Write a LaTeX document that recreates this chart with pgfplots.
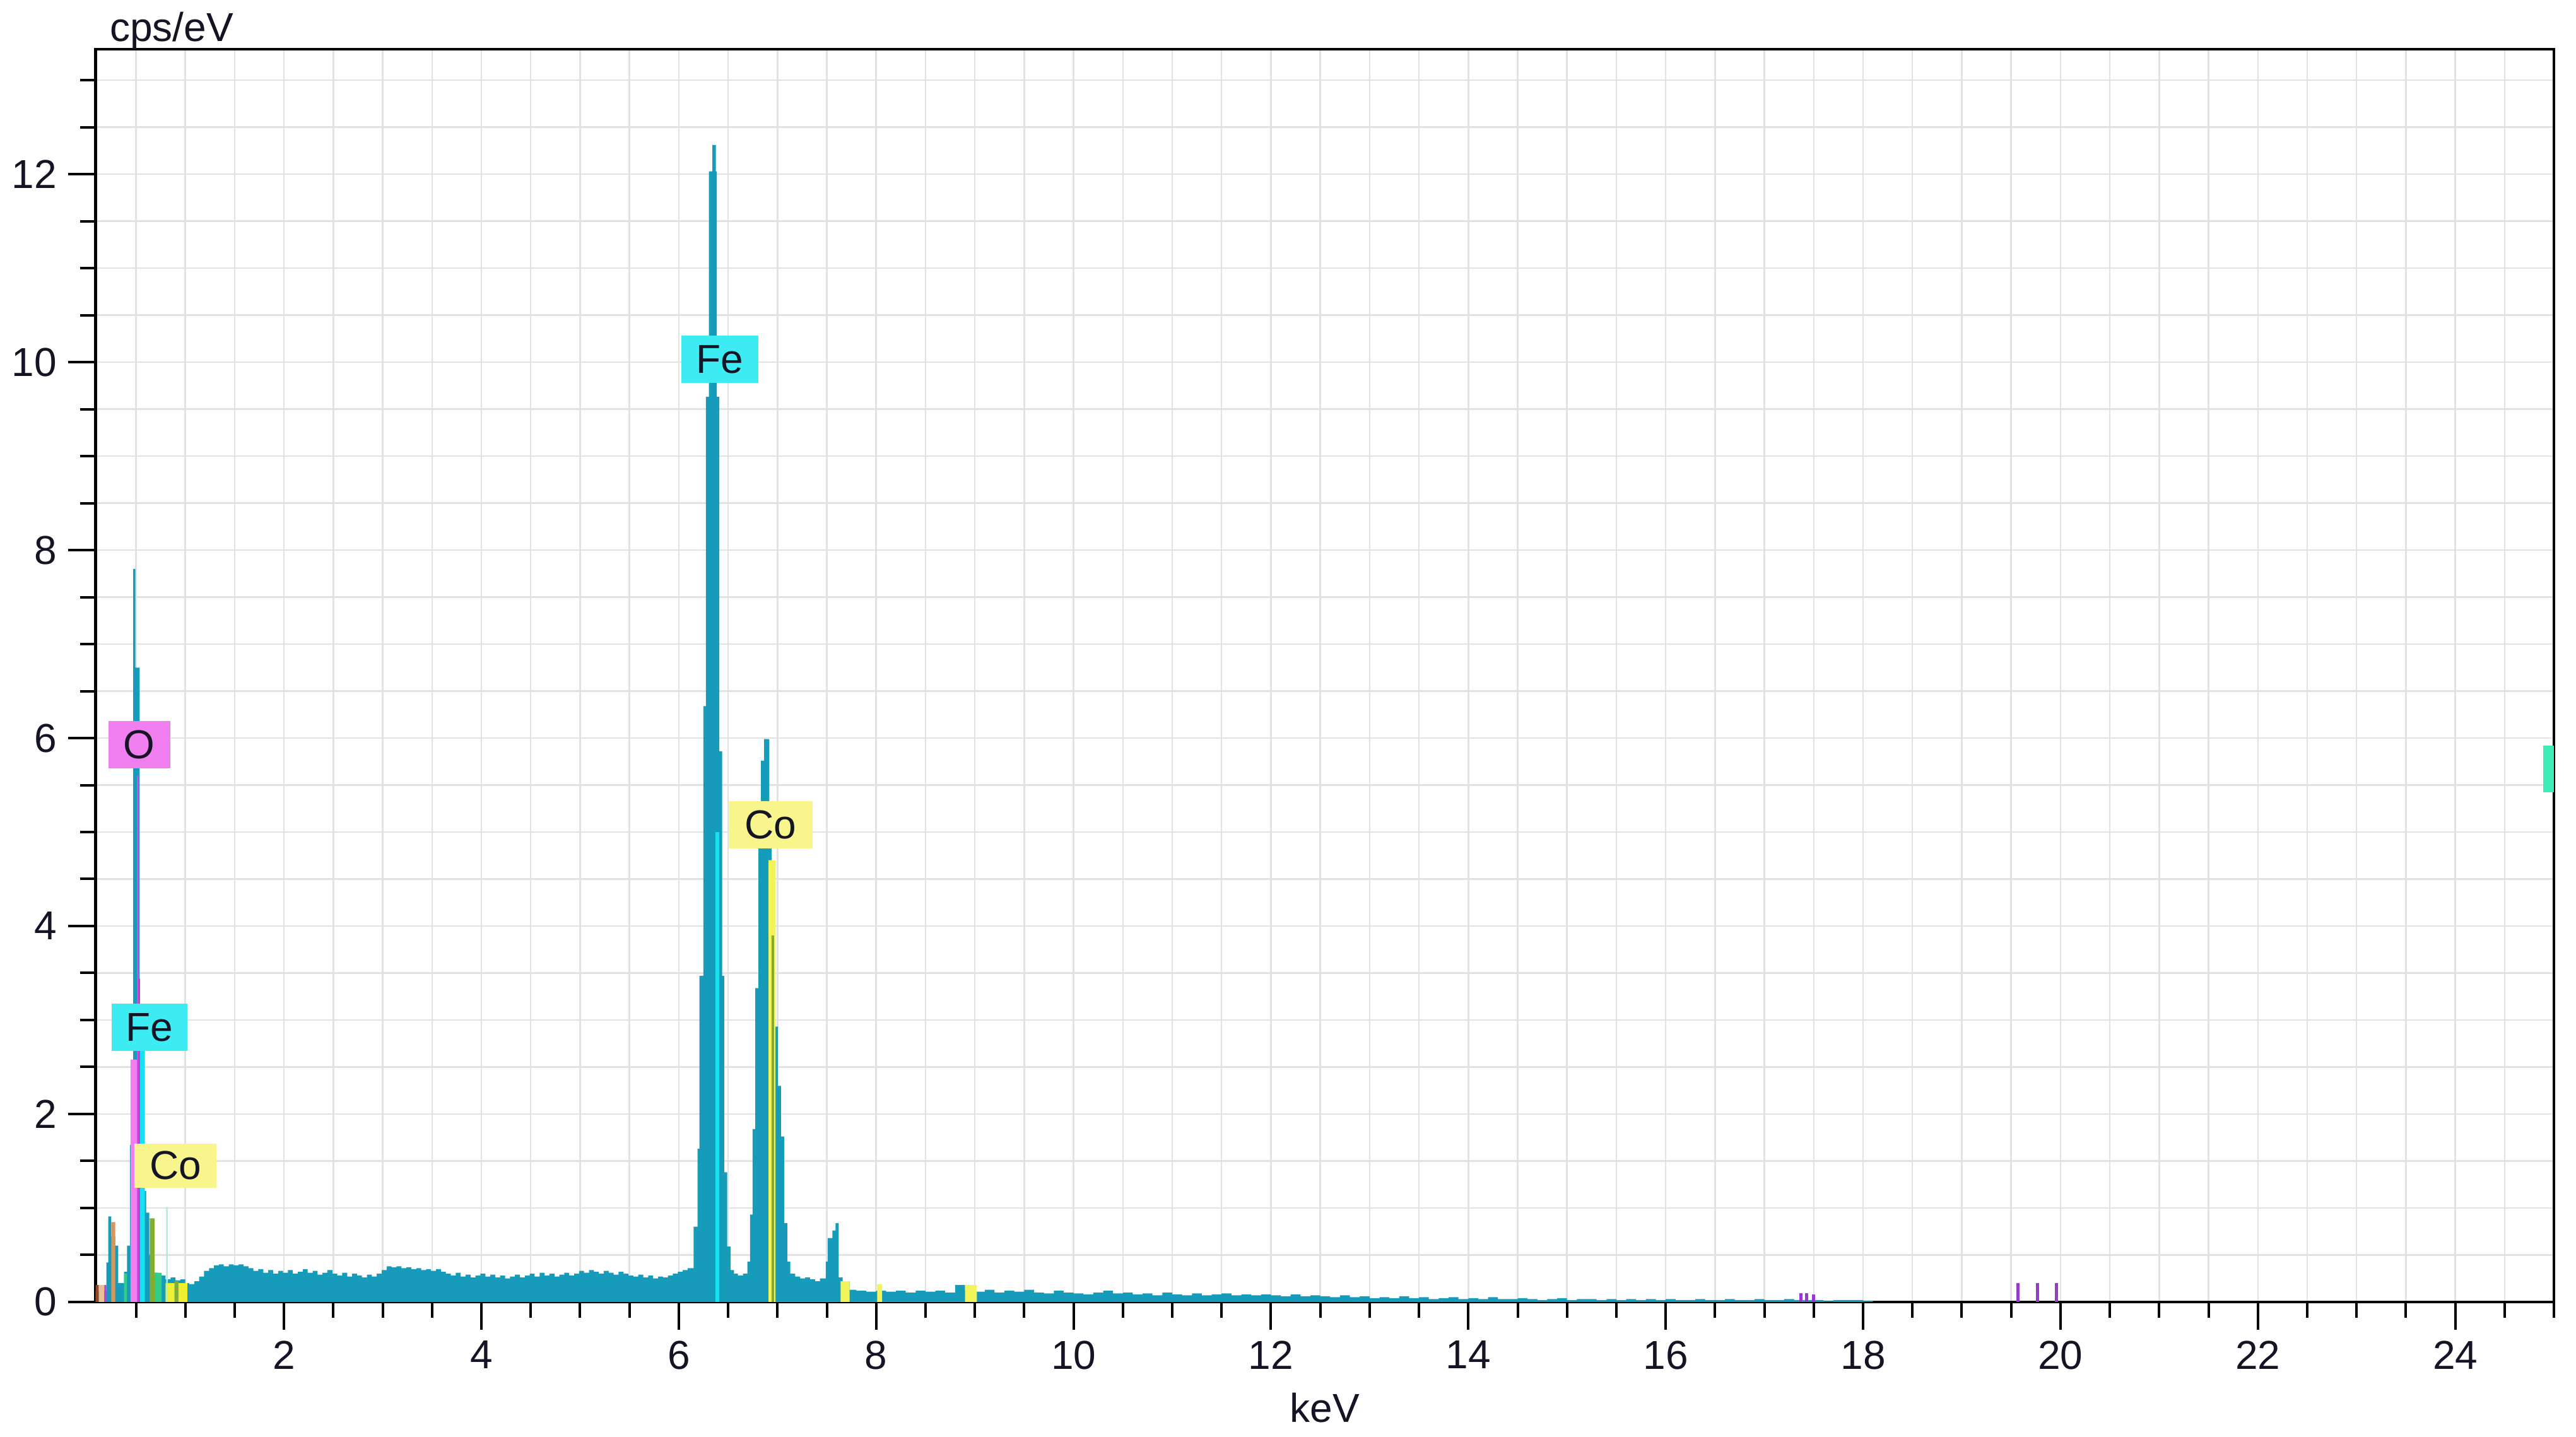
\documentclass[border=0pt]{standalone}
\usepackage{fontspec}
\setmainfont{Liberation Sans}
\usepackage{pgfplots}
\pgfplotsset{compat=1.18}
\definecolor{spec}{RGB}{22,156,186}
\definecolor{fecyan}{RGB}{60,236,242}
\definecolor{cymark}{RGB}{20,226,240}
\definecolor{obox}{RGB}{240,126,238}
\definecolor{omag}{RGB}{226,70,226}
\definecolor{opur}{RGB}{172,70,212}
\definecolor{cobox}{RGB}{248,245,140}
\definecolor{coyel}{RGB}{240,240,50}
\definecolor{olive}{RGB}{130,172,50}
\definecolor{grn}{RGB}{50,205,135}
\definecolor{mint}{RGB}{60,235,180}
\definecolor{lmint}{RGB}{170,240,210}
\definecolor{tan}{RGB}{214,150,92}
\definecolor{ltan}{RGB}{236,190,150}
\definecolor{dbrown}{RGB}{150,70,30}
\definecolor{purp}{RGB}{150,60,205}
\definecolor{gridc}{RGB}{226,226,226}
\definecolor{txt}{RGB}{20,20,36}
\pgfplotsset{
  layers/gridbelow/.define layer set={axis background,axis grid,pre main,main,axis ticks,axis lines,axis tick labels,axis descriptions,axis foreground}{},
}
\begin{document}
\begin{tikzpicture}
\begin{axis}[
  set layers=gridbelow,
  name=main,
  at={(0,0)}, anchor=south west,
  scale only axis, width=779.3pt, height=397.2pt,
  xmin=0.092, xmax=25, ymin=0, ymax=13.33,
  xtick={2,4,...,24}, ytick={0,2,...,12},
  minor xtick={0.5,1,...,25}, minor ytick={0.5,1,...,13},
  xtick pos=bottom, ytick pos=left,
  tick align=outside,
  major tick length=8.8pt, minor tick length=5pt,
  every tick/.style={black, line width=0.8pt},
  grid=both,
  major grid style={draw=gridc, line width=0.5pt},
  minor grid style={draw=gridc, line width=0.5pt},
  axis line style={line width=0.9pt, black},
  tick label style={font=\fontsize{12.8}{15}\selectfont, text=txt},
  /pgf/number format/assume math mode=true,
  clip mode=individual,
]
% main spectrum
\addplot[const plot mark left, fill=spec, draw=none] coordinates {
(0.092,0.12) (0.20,0.42) (0.22,0.91) (0.25,0.70) (0.29,0.60) (0.32,0.20) (0.38,0.32) (0.41,0.60) (0.44,1.67)
(0.472,7.80) (0.495,6.75) (0.537,2.77) (0.563,1.18) (0.603,0.95) (0.635,0.50) (0.68,0.31) (0.72,0.30)
(0.76,0.28) (0.80,0.24) (0.85,0.26) (0.90,0.23) (0.95,0.24) (1.00,0.20)
(1.04,0.19) (1.09,0.22) (1.14,0.27) (1.19,0.33) (1.24,0.36) (1.29,0.39) (1.34,0.40) (1.39,0.38) (1.44,0.40)
(1.49,0.39) (1.54,0.40) (1.59,0.38) (1.64,0.36) (1.69,0.33) (1.74,0.35) (1.79,0.31) (1.84,0.34) (1.89,0.30)
(1.94,0.33) (1.99,0.31) (2.04,0.34) (2.09,0.30) (2.14,0.32) (2.19,0.35) (2.24,0.31) (2.29,0.33) (2.34,0.29)
(2.39,0.31) (2.44,0.34) (2.49,0.30) (2.54,0.28) (2.59,0.31) (2.64,0.27) (2.69,0.30) (2.74,0.28) (2.79,0.26)
(2.84,0.29) (2.89,0.27) (2.94,0.30) (2.99,0.34) (3.04,0.38) (3.09,0.37) (3.14,0.38) (3.19,0.36) (3.24,0.37)
(3.29,0.35) (3.34,0.36) (3.39,0.34) (3.44,0.35) (3.49,0.33) (3.54,0.35) (3.59,0.32) (3.64,0.30) (3.69,0.28)
(3.74,0.31) (3.79,0.27) (3.84,0.29) (3.89,0.26) (3.94,0.28) (3.99,0.30) (4.04,0.27) (4.09,0.29) (4.14,0.26)
(4.19,0.28) (4.24,0.25) (4.29,0.27) (4.34,0.29) (4.39,0.26) (4.44,0.28) (4.49,0.30) (4.54,0.27) (4.59,0.31)
(4.64,0.28) (4.69,0.30) (4.74,0.27) (4.79,0.29) (4.84,0.31) (4.89,0.28) (4.94,0.30) (4.99,0.33) (5.04,0.31)
(5.09,0.34) (5.14,0.32) (5.19,0.30) (5.24,0.33) (5.29,0.31) (5.34,0.29) (5.39,0.32) (5.44,0.30) (5.49,0.28)
(5.54,0.27) (5.59,0.29) (5.64,0.26) (5.69,0.28) (5.74,0.25) (5.79,0.27) (5.84,0.26) (5.89,0.28) (5.94,0.30)
(5.99,0.32) (6.04,0.34) (6.09,0.36)
(6.15,0.80) (6.19,1.63) (6.21,3.47) (6.25,6.34) (6.275,9.63) (6.305,12.03) (6.34,12.31) (6.375,12.03)
(6.385,9.63) (6.41,5.86) (6.44,3.47) (6.46,1.38) (6.49,0.59) (6.525,0.34) (6.56,0.30) (6.60,0.28) (6.65,0.30)
(6.695,0.43) (6.722,0.93) (6.748,1.84) (6.775,3.34) (6.807,4.84) (6.833,5.76) (6.865,5.99) (6.918,4.84)
(6.94,3.93) (6.97,2.93) (7.003,2.30) (7.035,1.76) (7.067,0.84) (7.10,0.43) (7.13,0.30) (7.18,0.27) (7.23,0.25)
(7.28,0.26) (7.33,0.24) (7.38,0.22) (7.43,0.25) (7.49,0.43) (7.51,0.68) (7.556,0.76) (7.588,0.84) (7.62,0.26)
(7.66,0.22) (7.73,0.13)
(7.8,0.12) (7.9,0.11) (8.0,0.12) (8.1,0.11) (8.2,0.12) (8.3,0.10) (8.4,0.12) (8.5,0.11) (8.6,0.12) (8.7,0.10)
(8.8,0.18) (8.9,0.12) (9.0,0.11) (9.1,0.13) (9.2,0.10) (9.3,0.12) (9.4,0.11) (9.5,0.13) (9.6,0.10) (9.7,0.09)
(9.8,0.12) (9.9,0.10) (10.0,0.09) (10.1,0.08) (10.2,0.10) (10.3,0.12) (10.4,0.09) (10.5,0.10) (10.6,0.08)
(10.7,0.09) (10.8,0.07) (10.9,0.10) (11.0,0.08) (11.1,0.07) (11.2,0.09) (11.3,0.07) (11.4,0.08) (11.5,0.09)
(11.6,0.07) (11.7,0.08) (11.8,0.07) (11.9,0.08) (12.0,0.07) (12.1,0.06) (12.2,0.08) (12.3,0.06) (12.4,0.07)
(12.5,0.06) (12.6,0.05) (12.7,0.07) (12.8,0.05) (12.9,0.06) (13.0,0.04) (13.1,0.05) (13.2,0.04) (13.3,0.06)
(13.4,0.04) (13.5,0.05) (13.6,0.03) (13.7,0.04) (13.8,0.05) (13.9,0.03) (14.0,0.04) (14.1,0.03) (14.2,0.05)
(14.3,0.03) (14.4,0.03) (14.5,0.04) (14.6,0.03) (14.7,0.02) (14.8,0.03) (14.9,0.04) (15.0,0.02) (15.1,0.03)
(15.2,0.03) (15.3,0.02) (15.4,0.03) (15.5,0.02) (15.6,0.03) (15.7,0.02) (15.8,0.03) (15.9,0.02) (16.0,0.03)
(16.1,0.02) (16.2,0.02) (16.3,0.03) (16.4,0.02) (16.5,0.02) (16.6,0.03) (16.7,0.02) (16.8,0.02) (16.9,0.03)
(17.0,0.02) (17.1,0.02) (17.2,0.03) (17.3,0.02) (17.4,0.02) (17.5,0.02) (17.6,0.01) (17.7,0.02) (17.8,0.02)
(17.9,0.02) (18.0,0.01) (18.1,0.0)
} \closedcycle;
% element overlays
\addplot[fill=dbrown, draw=none] coordinates {(0.092,0)(0.092,0.18)(0.124,0.18)(0.124,0)} \closedcycle;
\addplot[fill=ltan, draw=none] coordinates {(0.124,0)(0.124,0.18)(0.18,0.18)(0.18,0)} \closedcycle;
\addplot[fill=opur, draw=none] coordinates {(0.18,0)(0.18,0.18)(0.20,0.18)(0.20,0)} \closedcycle;
\addplot[fill=tan, draw=none] coordinates {(0.25,0)(0.25,0.85)(0.29,0.85)(0.29,0)} \closedcycle;
\addplot[fill=grn, draw=none] coordinates {(0.38,0)(0.38,0.30)(0.41,0.30)(0.41,0)} \closedcycle;
\addplot[fill=obox, draw=none] coordinates {(0.445,0)(0.445,2.58)(0.51,2.58)(0.51,0)} \closedcycle;
\addplot[fill=omag, draw=none] coordinates {(0.51,0)(0.51,5.60)(0.525,5.60)(0.525,0)} \closedcycle;
\addplot[fill=opur, draw=none] coordinates {(0.525,0)(0.525,3.44)(0.54,3.44)(0.54,0)} \closedcycle;
\addplot[fill=cymark, draw=none] coordinates {(0.54,0)(0.54,2.77)(0.59,2.77)(0.59,0)} \closedcycle;
\addplot[fill=olive, draw=none] coordinates {(0.64,0)(0.64,0.89)(0.69,0.89)(0.69,0)(0.89,0)(0.89,0.22)(0.93,0.22)(0.93,0)} \closedcycle;
\addplot[fill=grn, draw=none] coordinates {(0.69,0)(0.69,0.31)(0.76,0.31)(0.76,0)} \closedcycle;
\addplot[fill=coyel, draw=none] coordinates {(0.80,0)(0.80,0.20)(0.89,0.20)(0.89,0)(0.93,0)(0.93,0.20)(1.02,0.20)(1.02,0)} \closedcycle;
\addplot[fill=lmint, draw=none] coordinates {(0.806,0)(0.806,1.01)(0.822,1.01)(0.822,0)} \closedcycle;
\addplot[fill=cymark, draw=none] coordinates {(6.37,0)(6.37,5.0)(6.41,5.0)(6.41,0)} \closedcycle;
\addplot[fill=coyel!80!white, draw=none] coordinates {(6.91,0)(6.91,4.7)(6.98,4.7)(6.98,0)
  (7.64,0)(7.64,0.22)(7.73,0.22)(7.73,0)(8.01,0)(8.01,0.19)(8.06,0.19)(8.06,0)(8.90,0)(8.90,0.18)(9.02,0.18)(9.02,0)} \closedcycle;
\addplot[fill=olive, draw=none] coordinates {(6.94,0)(6.94,3.9)(6.965,3.9)(6.965,0)} \closedcycle;
% trace lines
\addplot[ycomb, purp, line width=1pt, mark=none] coordinates {(17.37,0.09)(17.43,0.09)(17.50,0.08)(19.57,0.20)(19.77,0.20)(19.96,0.20)};
% cursor marker at right edge
\addplot[fill=mint, draw=none] coordinates {(24.89,5.42)(24.89,5.92)(25,5.92)(25,5.42)} -- cycle;
% element labels
\node[fill=fecyan, minimum width=24.3pt, minimum height=15pt, inner sep=0pt, font=\fontsize{12.8}{15}\selectfont, text=txt] at (axis cs:6.417,10.03) {Fe};
\node[fill=cobox, minimum width=26.5pt, minimum height=15pt, inner sep=0pt, font=\fontsize{12.8}{15}\selectfont, text=txt] at (axis cs:6.93,5.08) {Co};
\node[fill=obox, minimum width=19.7pt, minimum height=15pt, inner sep=0pt, font=\fontsize{12.8}{15}\selectfont, text=txt] at (axis cs:0.534,5.93) {O};
\node[fill=fecyan, minimum width=24pt, minimum height=15pt, inner sep=0pt, font=\fontsize{12.8}{15}\selectfont, text=txt] at (axis cs:0.636,2.92) {Fe};
\node[fill=cobox, minimum width=26pt, minimum height=14pt, inner sep=0pt, font=\fontsize{12.8}{15}\selectfont, text=txt] at (axis cs:0.90,1.45) {Co};
\end{axis}
\node[anchor=base west, inner sep=0pt, font=\fontsize{12.8}{15}\selectfont, text=txt] at ([xshift=4.3pt, yshift=2.4pt]main.north west) {cps/eV};
\node[anchor=base, inner sep=0pt, font=\fontsize{12.8}{15}\selectfont, text=txt] at ([yshift=-38.2pt]main.south) {keV};
\pgfresetboundingbox
\useasboundingbox (-30.34pt,-42.8pt) rectangle (786.3pt,412.8pt);
\end{tikzpicture}
\end{document}
